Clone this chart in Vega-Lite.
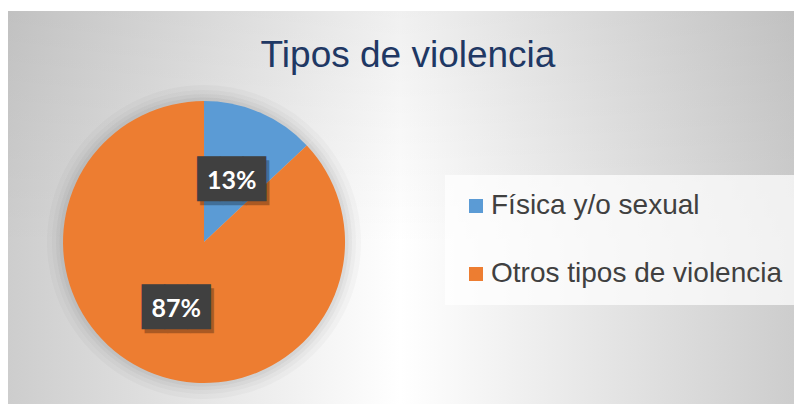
{
  "$schema": "https://vega.github.io/schema/vega-lite/v6.json",
  "width": 794,
  "height": 404,
  "autosize": {"type": "fit", "contains": "padding"},
  "padding": {"left": 8, "top": 11, "right": 0, "bottom": 0},
  "background": "#ffffff",
  "title": {
    "text": "Tipos de violencia",
    "font": "Liberation Sans",
    "fontSize": 37,
    "fontWeight": "normal",
    "color": "#1F3864",
    "anchor": "middle",
    "frame": "group",
    "baseline": "alphabetic",
    "offset": -93,
    "dx": 7
  },
  "data": {
    "values": [
      {"tipo": "Física y/o sexual", "valor": 13, "etiqueta": "13%"},
      {"tipo": "Otros tipos de violencia", "valor": 87, "etiqueta": "87%"}
    ]
  },
  "config": {
    "view": {"stroke": null},
    "legend": {
      "orient": "none",
      "legendX": 437,
      "legendY": 164,
      "padding": 17,
      "fillColor": "rgba(255,255,255,0.72)",
      "strokeColor": null,
      "symbolType": "square",
      "symbolSize": 196,
      "symbolStrokeWidth": 0,
      "labelFont": "Liberation Sans",
      "labelFontSize": 28,
      "labelColor": "#404040",
      "labelLimit": 500,
      "labelOffset": 1,
      "rowPadding": 40,
      "title": null
    }
  },
  "layer": [
    {
      "transform": [{"aggregate": [{"op": "count", "as": "n"}]}],
      "mark": {
        "type": "rect",
        "color": {
          "gradient": "linear", "x1": 0, "y1": 0, "x2": 1, "y2": 0,
          "stops": [
            {"offset": 0, "color": "#cdcdcd"},
            {"offset": 0.5, "color": "#ffffff"},
            {"offset": 1, "color": "#cdcdcd"}
          ]
        }
      },
      "encoding": {}
    },
    {
      "transform": [{"aggregate": [{"op": "count", "as": "n"}]}],
      "mark": {
        "type": "rect",
        "color": {
          "gradient": "linear", "x1": 0, "y1": 0, "x2": 0, "y2": 1,
          "stops": [
            {"offset": 0, "color": "rgba(0,0,0,0.06)"},
            {"offset": 0.6, "color": "rgba(0,0,0,0)"},
            {"offset": 1, "color": "rgba(0,0,0,0)"}
          ]
        }
      },
      "encoding": {}
    },
    {
      "mark": {"type": "arc", "outerRadius": 157, "color": "#000000", "opacity": 0.025},
      "encoding": {
        "theta": {"field": "valor", "type": "quantitative", "stack": true},
        "detail": {"field": "tipo"},
        "x": {"datum": 0.2494, "type": "quantitative", "scale": {"domain": [0, 1]}, "axis": null},
        "y": {"datum": 0.5878, "type": "quantitative", "scale": {"domain": [0, 1], "reverse": true}, "axis": null}
      }
    },
    {
      "mark": {"type": "arc", "outerRadius": 152, "color": "#000000", "opacity": 0.025},
      "encoding": {
        "theta": {"field": "valor", "type": "quantitative", "stack": true},
        "detail": {"field": "tipo"},
        "x": {"datum": 0.2494, "type": "quantitative"},
        "y": {"datum": 0.5878, "type": "quantitative"}
      }
    },
    {
      "mark": {"type": "arc", "outerRadius": 148, "color": "#000000", "opacity": 0.03},
      "encoding": {
        "theta": {"field": "valor", "type": "quantitative", "stack": true},
        "detail": {"field": "tipo"},
        "x": {"datum": 0.2494, "type": "quantitative"},
        "y": {"datum": 0.5878, "type": "quantitative"}
      }
    },
    {
      "mark": {"type": "arc", "outerRadius": 144.5, "color": "#000000", "opacity": 0.035},
      "encoding": {
        "theta": {"field": "valor", "type": "quantitative", "stack": true},
        "detail": {"field": "tipo"},
        "x": {"datum": 0.2494, "type": "quantitative"},
        "y": {"datum": 0.5878, "type": "quantitative"}
      }
    },
    {
      "mark": {"type": "arc", "outerRadius": 141},
      "encoding": {
        "theta": {"field": "valor", "type": "quantitative", "stack": true},
        "color": {
          "field": "tipo", "type": "nominal",
          "scale": {"domain": ["Física y/o sexual", "Otros tipos de violencia"], "range": ["#5B9BD5", "#ED7D31"]},
          "legend": {}
        },
        "x": {"datum": 0.2494, "type": "quantitative"},
        "y": {"datum": 0.5878, "type": "quantitative"}
      }
    },
    {
      "mark": {"type": "text", "radius": 70, "text": "███", "font": "DejaVu Sans Mono", "fontSize": 38, "color": "#000000", "opacity": 0.28, "baseline": "middle", "align": "center", "dx": 3, "dy": 7},
      "encoding": {
        "theta": {"field": "valor", "type": "quantitative", "stack": true},
        "detail": {"field": "tipo"},
        "x": {"datum": 0.2494, "type": "quantitative"},
        "y": {"datum": 0.5878, "type": "quantitative"}
      }
    },
    {
      "mark": {"type": "text", "radius": 70, "text": "███", "font": "DejaVu Sans Mono", "fontSize": 38, "color": "#404040", "baseline": "middle", "align": "center", "dy": 3},
      "encoding": {
        "theta": {"field": "valor", "type": "quantitative", "stack": true},
        "detail": {"field": "tipo"},
        "x": {"datum": 0.2494, "type": "quantitative"},
        "y": {"datum": 0.5878, "type": "quantitative"}
      }
    },
    {
      "mark": {"type": "text", "radius": 70, "font": "Lato", "fontSize": 25, "fontWeight": "bold", "color": "#ffffff", "baseline": "middle", "align": "center", "dy": 3},
      "encoding": {
        "theta": {"field": "valor", "type": "quantitative", "stack": true},
        "detail": {"field": "tipo"},
        "text": {"field": "etiqueta"},
        "x": {"datum": 0.2494, "type": "quantitative"},
        "y": {"datum": 0.5878, "type": "quantitative"}
      }
    }
  ]
}
